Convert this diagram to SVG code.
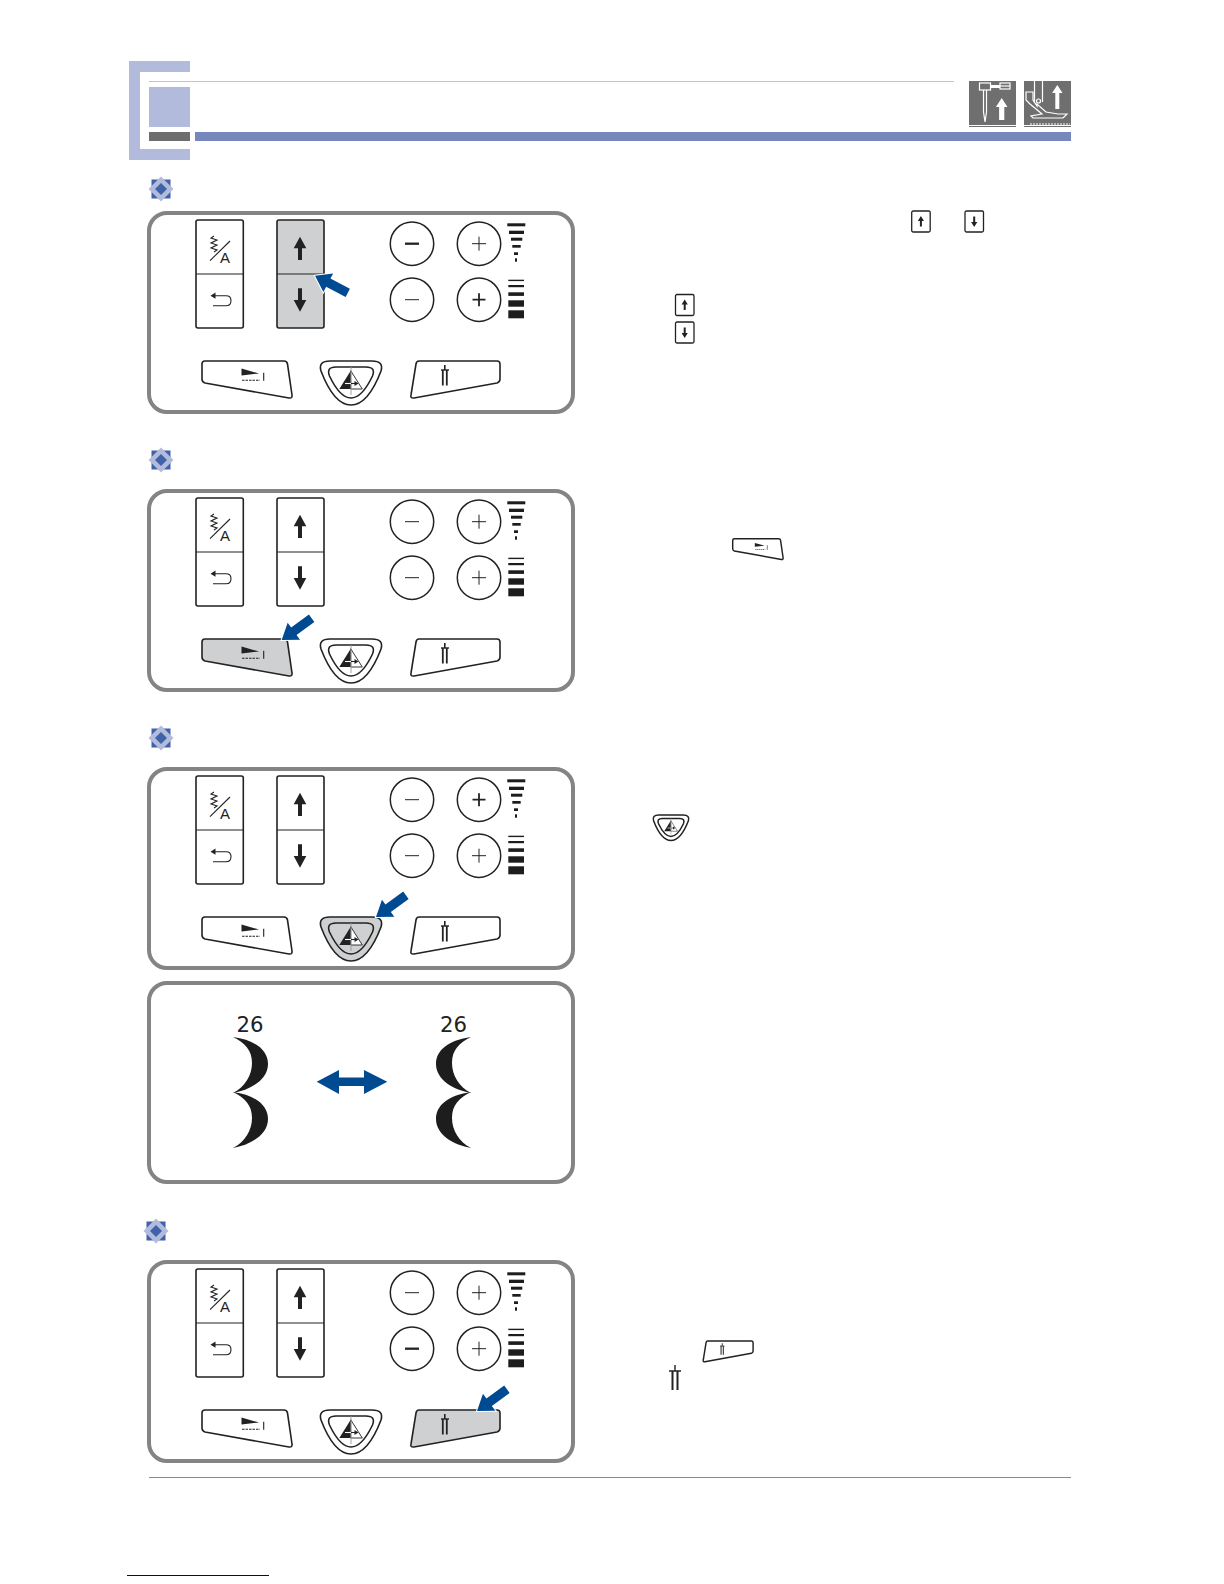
<svg xmlns="http://www.w3.org/2000/svg" xmlns:xlink="http://www.w3.org/1999/xlink" width="1224" height="1584" viewBox="0 0 1224 1584">
<style>
.frame{fill:#fff;stroke:#848484;stroke-width:4}
.k{fill:#fff;stroke:#222;stroke-width:1.6;stroke-linejoin:round}
.on{fill:#cfd0d1}
.c{fill:#fff;stroke:#222;stroke-width:1.5}
.th{stroke:#222;stroke-width:1;fill:none}
.bd{stroke:#222;stroke-width:2.3;fill:none}
.bar{fill:#1d1d1d}
.gl{fill:#222;stroke:none}
.ln{fill:none;stroke:#222;stroke-width:1.1}
.lnw{fill:none;stroke:#fff;stroke-width:1.2}
.bl{fill:#004a92}
.halo{stroke:#fff;stroke-width:2;paint-order:stroke;stroke-linejoin:miter}
.wh{fill:#fff}
.ic{fill:#6f6f6f}
.lab{font-family:"Liberation Sans",Arial,sans-serif;fill:#222}
</style>
<defs>
<g id="bullet">
<rect x="-9.5" y="-9.5" width="19" height="19" fill="#3f62a8"/>
<polygon points="0,-12.5 12.5,0 0,12.5 -12.5,0" fill="#b3bbdc"/>
<polygon points="0,-6 6,0 0,6 -6,0" fill="#3f62a8"/>
</g>
<g id="bars">
<rect class="bar" x="507.3" y="223.3" width="18" height="3"/>
<rect class="bar" x="509" y="230.7" width="15" height="3.3"/>
<rect class="bar" x="511" y="237.7" width="11.3" height="3"/>
<rect class="bar" x="512.3" y="245" width="8.4" height="2.7"/>
<rect class="bar" x="514" y="252.3" width="4" height="2.7"/>
<rect class="bar" x="515" y="258.3" width="2" height="3.4"/>
<rect class="bar" x="508.3" y="279.7" width="15.7" height="1.4"/>
<rect class="bar" x="508.3" y="285" width="15.7" height="2.2"/>
<rect class="bar" x="508.3" y="292.3" width="15.7" height="3.6"/>
<rect class="bar" x="508.3" y="300.3" width="15.7" height="6.4"/>
<rect class="bar" x="508.3" y="310.3" width="15.7" height="8"/>
</g>
<g id="patternGlyph">
<polyline class="ln" points="214,236 211,238 217,240 211,243 217,245 211,248 217,250 214,252"/>
<line class="ln" x1="210" y1="260.7" x2="230" y2="241"/>
<text class="lab" x="220" y="263" font-size="15">A</text>
<path class="ln" d="M214,295.7 H226 Q231,295.7 231,300.5 Q231,305.8 226,305.8 H213" stroke-width="1.4"/>
<polygon class="gl" points="210.5,295.7 215.5,292.6 215.5,298.8"/>
</g>
<g id="upDown">
<polygon class="gl" points="300,236.7 306.3,248.3 302,248.3 302,260 298,260 298,248.3 293.7,248.3"/>
<polygon class="gl" points="300,311.7 306.3,300 302,300 302,288.3 298,288.3 298,300 293.7,300"/>
</g>
<g id="stitchGlyph">
<polygon class="gl" points="241.5,368.5 259,373.5 241.5,375.5"/>
<line class="ln" x1="242" y1="380.3" x2="260" y2="380.3" stroke-dasharray="2.5 1"/>
<line class="ln" x1="263.7" y1="372.7" x2="263.7" y2="380.7"/>
</g>
<g id="mirrorGlyph">
<polygon points="350.7,370.7 362.3,389 350.7,389" fill="#fff" stroke="#222" stroke-width="0.9"/>
<polygon class="gl" points="339.3,389 350.7,370.7 350.7,389"/>
<line x1="351" y1="367" x2="351" y2="395" stroke="#999" stroke-width="0.9"/>
<line x1="345" y1="383.5" x2="355" y2="383.5" stroke="#fff" stroke-width="1.1"/>
<line x1="351" y1="383.5" x2="355" y2="383.5" stroke="#222" stroke-width="1.1"/>
<polygon points="358.5,383.5 354.5,381 354.5,386" fill="#222"/>
</g>
<g id="needleGlyph">
<line class="ln" x1="442.8" y1="370" x2="442.8" y2="385.5" style="stroke-width:1.8"/>
<line class="ln" x1="446.8" y1="370" x2="446.8" y2="385.5" style="stroke-width:1.8"/>
<line class="ln" x1="441" y1="370" x2="449" y2="370" style="stroke-width:1.4"/>
<line class="ln" x1="444.8" y1="365" x2="444.8" y2="370" style="stroke-width:1.6"/>
</g>
<path id="kLeft" d="M205,361 H284 Q287,361 287.5,364 L292,395 Q292.5,398.5 289,398 L205,383 Q202,382 202,379 V364 Q202,361 205,361 Z"/>
<path id="kRight" d="M419,361 H497 Q500,361 500,364 V379 Q500,382 497,383 L414,398 Q410,398.5 411,395 L416,364 Q416.5,361 419,361 Z"/>
<path id="kMidO" d="M330,361 H372 Q384,361 381,371 Q368,405 351,405 Q334,405 321,371 Q318,361 330,361 Z"/>
<path id="kMidI" d="M336,367 H366 Q376,367 372.5,376 Q362,398 351,398 Q340,398 329.5,376 Q326,367 336,367 Z"/>
<polygon id="ptr" points="0,0 15,-10.5 15,-4.6 37,-4.6 37,4.6 15,4.6 15,10.5"/>
<path id="lobe" d="M233,1037 C255,1040 268,1050 268,1064 C268,1080 250,1090 233,1093 C245,1087 252,1075 252,1063 C252,1050 245,1043 233,1037 Z"/>
<g id="arrowUpMini"><rect class="k" width="18.5" height="21" rx="1.5" style="stroke-width:1.3"/><polygon class="gl" points="9.2,5 12.3,10 10.2,10 10.2,15.5 8.2,15.5 8.2,10 6.1,10"/></g>
<g id="arrowDownMini"><rect class="k" width="18.5" height="21" rx="1.5" style="stroke-width:1.3"/><polygon class="gl" points="9.2,16 12.3,11 10.2,11 10.2,5.5 8.2,5.5 8.2,11 6.1,11"/></g>
</defs>

<g id="header">
<path d="M129,61 H190 V72 H140 V149 H190 V160 H129 Z" fill="#b3bbdc"/>
<line x1="149" y1="81.5" x2="954" y2="81.5" stroke="#c4c4c4" stroke-width="1"/>
<rect x="149" y="87" width="41" height="40" fill="#b3bbdc"/>
<rect x="149" y="132" width="41" height="9" fill="#6d6d6d"/>
<rect x="195" y="132" width="876" height="9" fill="#7687bd"/>
</g>
<g id="icon-needle">
<rect class="ic" x="969" y="81" width="47" height="44"/>
<rect x="969" y="125" width="47" height="1" fill="#fff"/><rect x="969" y="126" width="47" height="1" fill="#6f6f6f"/>
<rect class="lnw" x="979.5" y="83" width="11" height="7"/>
<rect x="990.5" y="85" width="9.5" height="3" fill="#fff"/>
<rect class="lnw" x="1000" y="83" width="10" height="6"/>
<line class="lnw" x1="1000" y1="86" x2="1010" y2="86"/>
<path d="M983.5,90 V112 L985,122 L986.5,112 V90" class="lnw"/>
<polygon class="wh" points="1001.7,98 1007.5,107 1004.3,107 1004.3,120 999.1,120 999.1,107 995.9,107"/>
</g>
<g id="icon-foot">
<rect class="ic" x="1024" y="81" width="47" height="44"/>
<rect x="1024" y="125" width="47" height="1" fill="#fff"/><rect x="1024" y="126" width="47" height="1" fill="#6f6f6f"/>
<line class="lnw" x1="1034.5" y1="81" x2="1034.5" y2="102"/>
<line class="lnw" x1="1042.5" y1="81" x2="1042.5" y2="102"/>
<circle class="lnw" cx="1038.5" cy="101" r="2"/>
<path class="lnw" d="M1026,92 H1033 L1033,100 L1037,106 L1037,104 L1046,112 L1058,114 L1067,114 L1063,118 H1033 L1031,116 L1042,114 L1030,104 L1026,100 Z"/>
<line x1="1030" y1="124" x2="1070" y2="124" stroke="#fff" stroke-width="1" stroke-dasharray="2 1"/>
<polygon class="wh" points="1057.3,85 1062.5,93 1059.3,93 1059.3,109 1055.3,109 1055.3,93 1052.1,93"/>
</g>

<use id="bullet-1" href="#bullet" x="161" y="189"/>
<use id="bullet-2" href="#bullet" x="161" y="460"/>
<use id="bullet-3" href="#bullet" x="161" y="738"/>
<use id="bullet-4" href="#bullet" x="156" y="1231"/>

<g id="panel-1">
<rect class="frame" x="149" y="213" width="424" height="199" rx="18"/>
<rect class="k" x="196" y="220" width="47.3" height="108" rx="2"/><line class="ln" x1="196" y1="274" x2="243.3" y2="274"/>
<use href="#patternGlyph"/>
<rect class="k on" x="277" y="220" width="47" height="108" rx="2"/><line class="ln" x1="277" y1="274" x2="324" y2="274"/>
<use href="#upDown"/>
<circle class="c" cx="412" cy="243.7" r="21.7"/><line class="bd" x1="405" y1="243.7" x2="419" y2="243.7"/>
<circle class="c" cx="479" cy="243.7" r="21.7"/><path class="th" d="M472,243.7 H486 M479,236.7 V250.7"/>
<circle class="c" cx="412" cy="299.7" r="21.7"/><line class="th" x1="405" y1="299.7" x2="419" y2="299.7"/>
<circle class="c" cx="479" cy="299.7" r="21.7"/><path class="bd" d="M472.5,299.7 H485.5 M479,293.2 V306.2" style="stroke-width:1.8"/>
<use href="#bars"/>
<use class="k" href="#kLeft"/><use href="#stitchGlyph"/>
<use class="k" href="#kMidO"/><use class="k" href="#kMidI"/><use href="#mirrorGlyph"/>
<use class="k" href="#kRight"/><use href="#needleGlyph"/>
</g>

<g id="panel-2" transform="translate(0 278)">
<rect class="frame" x="149" y="213" width="424" height="199" rx="18"/>
<rect class="k" x="196" y="220" width="47.3" height="108" rx="2"/><line class="ln" x1="196" y1="274" x2="243.3" y2="274"/>
<use href="#patternGlyph"/>
<rect class="k" x="277" y="220" width="47" height="108" rx="2"/><line class="ln" x1="277" y1="274" x2="324" y2="274"/>
<use href="#upDown"/>
<circle class="c" cx="412" cy="243.7" r="21.7"/><line class="th" x1="405" y1="243.7" x2="419" y2="243.7"/>
<circle class="c" cx="479" cy="243.7" r="21.7"/><path class="th" d="M472,243.7 H486 M479,236.7 V250.7"/>
<circle class="c" cx="412" cy="299.7" r="21.7"/><line class="th" x1="405" y1="299.7" x2="419" y2="299.7"/>
<circle class="c" cx="479" cy="299.7" r="21.7"/><path class="th" d="M472,299.7 H486 M479,292.7 V306.7"/>
<use href="#bars"/>
<use class="k on" href="#kLeft"/><use href="#stitchGlyph"/>
<use class="k" href="#kMidO"/><use class="k" href="#kMidI"/><use href="#mirrorGlyph"/>
<use class="k" href="#kRight"/><use href="#needleGlyph"/>
</g>

<g id="panel-3" transform="translate(0 556)">
<rect class="frame" x="149" y="213" width="424" height="199" rx="18"/>
<rect class="k" x="196" y="220" width="47.3" height="108" rx="2"/><line class="ln" x1="196" y1="274" x2="243.3" y2="274"/>
<use href="#patternGlyph"/>
<rect class="k" x="277" y="220" width="47" height="108" rx="2"/><line class="ln" x1="277" y1="274" x2="324" y2="274"/>
<use href="#upDown"/>
<circle class="c" cx="412" cy="243.7" r="21.7"/><line class="th" x1="405" y1="243.7" x2="419" y2="243.7"/>
<circle class="c" cx="479" cy="243.7" r="21.7"/><path class="bd" d="M472.5,243.7 H485.5 M479,237.2 V250.2" style="stroke-width:1.8"/>
<circle class="c" cx="412" cy="299.7" r="21.7"/><line class="th" x1="405" y1="299.7" x2="419" y2="299.7"/>
<circle class="c" cx="479" cy="299.7" r="21.7"/><path class="th" d="M472,299.7 H486 M479,292.7 V306.7"/>
<use href="#bars"/>
<use class="k" href="#kLeft"/><use href="#stitchGlyph"/>
<use class="k on" href="#kMidO"/><use class="k on" href="#kMidI"/><use href="#mirrorGlyph"/>
<use class="k" href="#kRight"/><use href="#needleGlyph"/>
</g>

<g id="display">
<rect class="frame" x="149" y="983" width="424" height="199" rx="18"/>
<text class="lab" x="250" y="1032" font-size="21.5" text-anchor="middle" textLength="27" lengthAdjust="spacingAndGlyphs" style="font-family:'DejaVu Sans',sans-serif">26</text>
<text class="lab" x="453.5" y="1032" font-size="21.5" text-anchor="middle" textLength="27" lengthAdjust="spacingAndGlyphs" style="font-family:'DejaVu Sans',sans-serif">26</text>
<g fill="#1d1d1d">
<use href="#lobe"/><use href="#lobe" transform="translate(0 55)"/>
<use href="#lobe" transform="translate(704 0) scale(-1 1)"/><use href="#lobe" transform="translate(704 55) scale(-1 1)"/>
</g>
<polygon class="bl" points="316.7,1081.7 339,1070 339,1077.4 364,1077.4 364,1070 387.3,1081.7 364,1094 364,1086 339,1086 339,1094"/>
</g>

<g id="panel-4" transform="translate(0 1049)">
<rect class="frame" x="149" y="213" width="424" height="199" rx="18"/>
<rect class="k" x="196" y="220" width="47.3" height="108" rx="2"/><line class="ln" x1="196" y1="274" x2="243.3" y2="274"/>
<use href="#patternGlyph"/>
<rect class="k" x="277" y="220" width="47" height="108" rx="2"/><line class="ln" x1="277" y1="274" x2="324" y2="274"/>
<use href="#upDown"/>
<circle class="c" cx="412" cy="243.7" r="21.7"/><line class="th" x1="405" y1="243.7" x2="419" y2="243.7"/>
<circle class="c" cx="479" cy="243.7" r="21.7"/><path class="th" d="M472,243.7 H486 M479,236.7 V250.7"/>
<circle class="c" cx="412" cy="299.7" r="21.7"/><line class="bd" x1="405" y1="299.7" x2="419" y2="299.7"/>
<circle class="c" cx="479" cy="299.7" r="21.7"/><path class="th" d="M472,299.7 H486 M479,292.7 V306.7"/>
<use href="#bars"/>
<use class="k" href="#kLeft"/><use href="#stitchGlyph"/>
<use class="k" href="#kMidO"/><use class="k" href="#kMidI"/><use href="#mirrorGlyph"/>
<use class="k on" href="#kRight"/><use href="#needleGlyph"/>
</g>

<g id="connectors">
<use class="bl halo" href="#ptr" transform="translate(315 275.7) rotate(27.7)"/>
<use class="bl halo" href="#ptr" transform="translate(281.7 640) rotate(-36)"/>
<use class="bl halo" href="#ptr" transform="translate(376 917) rotate(-36)"/>
<use class="bl halo" href="#ptr" transform="translate(477 1411) rotate(-36)"/>
</g>

<g id="inline-keys">
<use href="#arrowUpMini" x="911.7" y="211"/>
<use href="#arrowDownMini" x="965" y="211"/>
<use href="#arrowUpMini" x="675.5" y="294.5"/>
<use href="#arrowDownMini" x="675.5" y="322"/>
<g transform="translate(732.7 538.7) scale(.56) translate(-202 -361)">
<use class="k" href="#kLeft" style="stroke-width:2.6"/><use href="#stitchGlyph"/></g>
<g transform="translate(653 815) scale(.58) translate(-320 -361)">
<use class="k" href="#kMidO" style="stroke-width:2.6"/><use class="k" href="#kMidI" style="stroke-width:2.6"/><use href="#mirrorGlyph"/></g>
<g transform="translate(702.7 1341) scale(.56) translate(-410 -361)">
<use class="k" href="#kRight" style="stroke-width:2.6"/><use href="#needleGlyph"/></g>
<g id="needle-mark">
<path d="M672.5,1371 V1390 M677.5,1371 V1390" stroke="#222" stroke-width="2" fill="none"/>
<path d="M669,1371 H681 M675,1365 V1371" stroke="#222" stroke-width="1.4" fill="none"/>
</g>
</g>

<line id="footer-rule" x1="149" y1="1477.5" x2="1071" y2="1477.5" stroke="#7c8c9c" stroke-width="1"/>
<line id="link-rule" x1="127" y1="1575.5" x2="269" y2="1575.5" stroke="#00008b" stroke-width="1"/>
</svg>
